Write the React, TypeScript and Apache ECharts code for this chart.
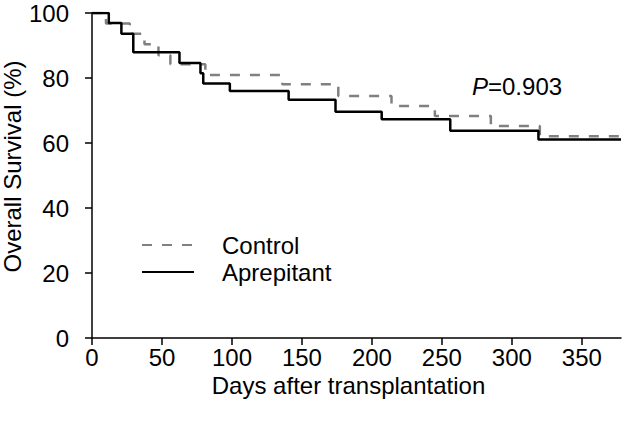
import React, { useEffect, useRef } from "react";
import * as echarts from "echarts";

const xTickValues = [0, 50, 100, 150, 200, 250, 300, 350];
const yTickValues = [0, 20, 40, 60, 80, 100];
const controlDays = [0, 10, 27, 37.5, 47.5, 56, 81, 136, 176, 214, 245, 285, 320, 378];
const controlSurv = [100, 96.8, 93.6, 90.4, 87.0, 84.2, 80.9, 78.1, 74.5, 71.4, 68.3, 65.2, 62.1, 62.1];
const aprepDays = [0, 12, 21, 29.5, 62.5, 77.5, 79.5, 98.5, 140.5, 174, 207, 256, 319, 378];
const aprepSurv = [100, 96.9, 93.6, 87.9, 84.6, 81.5, 78.3, 76.0, 73.3, 69.6, 67.3, 63.8, 61.1, 61.1];

const FONT = "Liberation Sans, Arial, sans-serif";
const FS = 24;

export default function App() {
  const ref = useRef<HTMLDivElement>(null);
  useEffect(() => {
    if (!ref.current) return;
    const chart = echarts.init(ref.current, null, { renderer: "svg" });
    const controlData = controlDays.map((d, i) => [d, controlSurv[i]]);
    const aprepData = aprepDays.map((d, i) => [d, aprepSurv[i]]);
    chart.setOption({
      animation: false,
      backgroundColor: "#fff",
      textStyle: { fontFamily: FONT },
      grid: { left: 92, right: 1, top: 13, bottom: 84, containLabel: false, outerBoundsMode: "none" },
      legend: {
        orient: "vertical",
        left: 136,
        top: 228,
        itemWidth: 52,
        itemHeight: 14,
        itemGap: 3,
        itemStyle: { opacity: 0 },
        textStyle: { fontSize: FS, color: "#000", fontFamily: FONT, padding: [0, 0, 0, 23] },
        data: ["Control", "Aprepitant"],
      },
      xAxis: {
        type: "value",
        min: 0,
        max: 378,
        interval: 50,
        name: "Days after transplantation",
        nameLocation: "middle",
        nameGap: 36,
        nameMoveOverlap: false,
        nameTextStyle: { fontSize: FS, lineHeight: 22, color: "#000", fontFamily: FONT, padding: [0, 16, 0, 0] },
        axisLine: { show: true, lineStyle: { color: "#000", width: 1.5 } },
        axisTick: { show: true, length: 7, lineStyle: { color: "#000", width: 1.5 }, customValues: xTickValues },
        axisLabel: { fontSize: FS, lineHeight: 20, color: "#000", margin: 9, customValues: xTickValues },
        splitLine: { show: false },
      },
      yAxis: {
        type: "value",
        min: 0,
        max: 100,
        interval: 20,
        name: "Overall Survival (%)",
        nameLocation: "middle",
        nameGap: 68,
        nameMoveOverlap: false,
        nameTextStyle: { fontSize: FS, color: "#000", fontFamily: FONT, padding: [0, 0, 0, 18] },
        axisLine: { show: true, lineStyle: { color: "#000", width: 1.5 } },
        axisTick: { show: true, length: 7, lineStyle: { color: "#000", width: 1.5 }, customValues: yTickValues },
        axisLabel: { fontSize: FS, color: "#000", margin: 23, customValues: yTickValues },
        splitLine: { show: false },
      },
      graphic: [
        {
          type: "text",
          left: 472,
          top: 74,
          style: {
            text: "{i|P}=0.903",
            rich: { i: { fontStyle: "italic", fontSize: FS, fontFamily: FONT, fill: "#000" } },
            fontSize: FS,
            fontFamily: FONT,
            fill: "#000",
          },
        },
      ],
      series: [
        {
          name: "Control",
          type: "line",
          step: "end",
          data: controlData,
          showSymbol: false,
          symbol: "none",
          lineStyle: { color: "#808080", width: 2.5, type: [10, 10] },
          itemStyle: { color: "#808080" },
          z: 2,
        },
        {
          name: "Aprepitant",
          type: "line",
          step: "end",
          data: aprepData,
          showSymbol: false,
          symbol: "none",
          lineStyle: { color: "#000", width: 2.5 },
          itemStyle: { color: "#000" },
          z: 3,
        },
      ],
    });
    return () => chart.dispose();
  }, []);
  return <div ref={ref} style={{ position: "fixed", left: 0, top: 0, width: 622, height: 422 }} />;
}
